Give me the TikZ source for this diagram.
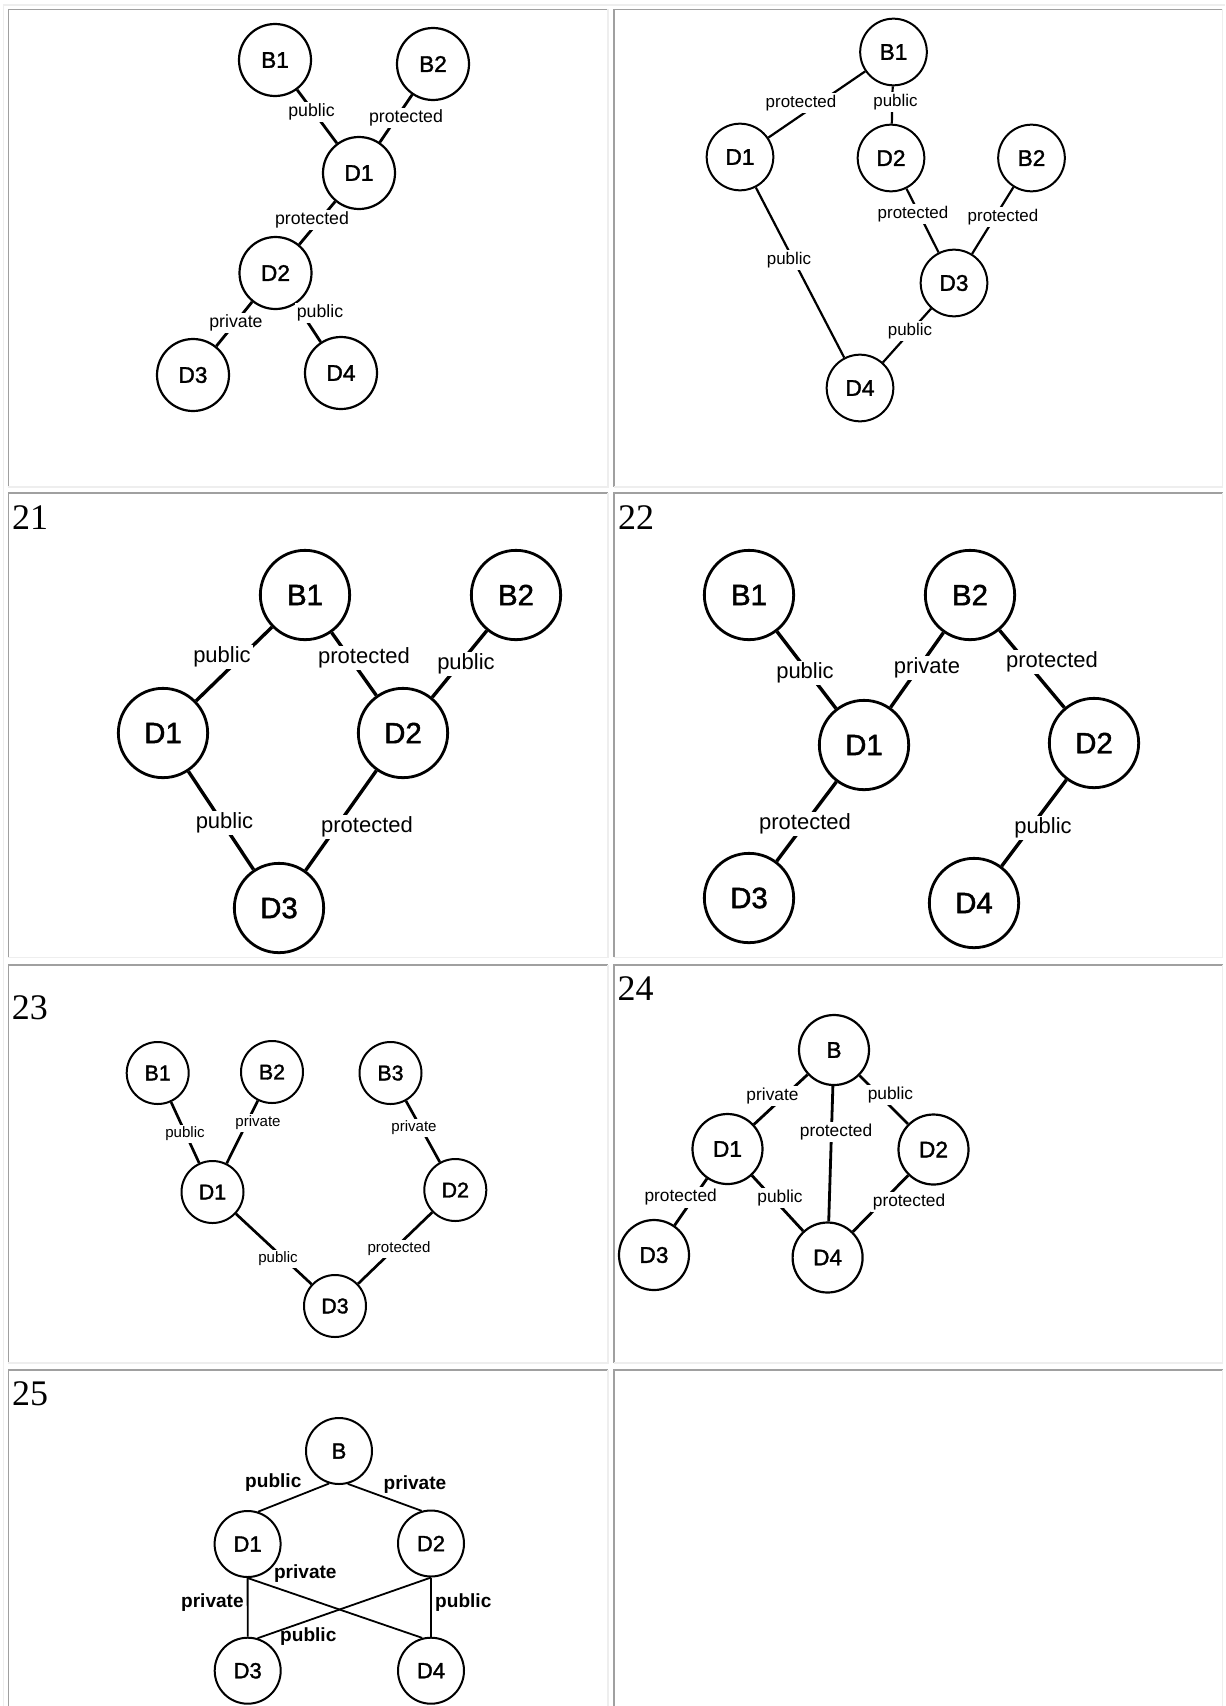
\documentclass[tikz,border=0pt]{standalone}
\usepackage{fontspec}
\setmainfont{Liberation Serif}
\setsansfont{Liberation Sans}
\newfontfamily\nodefont[FakeBold=1.6]{Liberation Sans}
\usepackage{xcolor}
\usepackage{tikz}

\definecolor{celldark}{HTML}{A0A0A0}
\definecolor{celllight}{HTML}{EEEEEE}

\begin{document}
\begin{tikzpicture}[x=0.75pt, y=-0.75pt,
    cls/.style={circle, draw, inner sep=0pt},
    lbl/.style={fill=white, inner sep=1.5pt},
    link/.style={draw, black},
    num/.style={anchor=west, inner sep=0pt, font=\fontsize{27}{27}\selectfont},
    darkrule/.style={celldark, line width=1.2pt},
    lightrule/.style={celllight, line width=1.2pt}]
  \useasboundingbox (0,0) rectangle (1225,1706);

  % Table frame
  \draw[lightrule] (3.3,1706) -- (3.3,5) -- (1225,5);

  % Cells (dark top/left, light bottom/right)
  \draw[darkrule] (8.3,486.7) -- (8.3,9.3) -- (608,9.3);
  \draw[lightrule] (608,9.3) -- (608,486.7) -- (8.3,486.7);
  \draw[darkrule] (614,486.7) -- (614,9.3) -- (1222.5,9.3);
  \draw[lightrule] (1222.5,9.3) -- (1222.5,486.7) -- (614,486.7);

  \draw[darkrule] (8.3,957.3) -- (8.3,492.7) -- (608,492.7);
  \draw[lightrule] (608,492.7) -- (608,957.3) -- (8.3,957.3);
  \draw[darkrule] (614,957.3) -- (614,492.7) -- (1222.5,492.7);
  \draw[lightrule] (1222.5,492.7) -- (1222.5,957.3) -- (614,957.3);

  \draw[darkrule] (8.3,1363) -- (8.3,965) -- (608,965);
  \draw[lightrule] (608,965) -- (608,1363) -- (8.3,1363);
  \draw[darkrule] (614,1363) -- (614,965) -- (1222.5,965);
  \draw[lightrule] (1222.5,965) -- (1222.5,1363) -- (614,1363);

  \draw[darkrule] (8.3,1710) -- (8.3,1370) -- (608,1370);
  \draw[lightrule] (608,1370) -- (608,1710);
  \draw[darkrule] (614,1710) -- (614,1370) -- (1222.5,1370);
  \draw[lightrule] (1222.5,1370) -- (1222.5,1710);

  % Top left
  \begin{scope}[name prefix=pa-,
      cls/.append style={minimum size=54pt, line width=1.65pt, font=\nodefont\fontsize{17}{17}\selectfont},
      lbl/.append style={font=\sffamily\fontsize{13.3}{13.3}\selectfont},
      link/.append style={line width=2.1pt}]
    \node[cls] (B1) at (275,60) {B1};
    \node[cls] (B2) at (433,64) {B2};
    \node[cls] (D1) at (359,173) {D1};
    \node[cls] (D2) at (275.5,273) {D2};
    \node[cls] (D3) at (193,375) {D3};
    \node[cls] (D4) at (341,373) {D4};

    \draw[link] (B1) -- (D1);
    \draw[link] (B2) -- (D1);
    \draw[link] (D1) -- (D2);
    \draw[link] (D2) -- (D3);
    \draw[link] (D2) -- (D4);

    \node[lbl] (lB1D1) at (311.5,112) {public};
    \node[lbl] (lB2D1) at (406,118) {protected};
    \node[lbl] (lD1D2) at (312,220) {protected};
    \node[lbl] (lD2D3) at (236,323) {private};
    \node[lbl] (lD2D4) at (320,313) {public};
  \end{scope}

  % Top right
  \begin{scope}[name prefix=pb-,
      cls/.append style={minimum size=50pt, line width=1.5pt, font=\nodefont\fontsize{17}{17}\selectfont},
      lbl/.append style={font=\sffamily\fontsize{12.7}{12.7}\selectfont},
      link/.append style={line width=1.65pt}]
    \node[cls] (B1) at (893.5,52) {B1};
    \node[cls] (D1) at (740,157) {D1};
    \node[cls] (D2) at (891,158) {D2};
    \node[cls] (B2) at (1031.5,158) {B2};
    \node[cls] (D3) at (954,283) {D3};
    \node[cls] (D4) at (860,388) {D4};

    \draw[link] (B1) -- (D1);
    \draw[link] (B1) -- (D2);
    \draw[link] (D2) -- (D3);
    \draw[link] (B2) -- (D3);
    \draw[link] (D1) -- (D4);
    \draw[link] (D3) -- (D4);

    \node[lbl] (lB1D1) at (801,103) {protected};
    \node[lbl] (lB1D2) at (895.5,102) {public};
    \node[lbl] (lD2D3) at (913,214) {protected};
    \node[lbl] (lB2D3) at (1003,217) {protected};
    \node[lbl] (lD1D4) at (789,260) {public};
    \node[lbl] (lD3D4) at (910,331) {public};
  \end{scope}

  % 21
  \node[num] (n21) at (11.9,517.5) {21};
  \begin{scope}[name prefix=p21-,
      cls/.append style={minimum size=67pt, line width=2.1pt, font=\nodefont\fontsize{22}{22}\selectfont},
      lbl/.append style={font=\sffamily\fontsize{16.5}{16.5}\selectfont},
      link/.append style={line width=2.55pt}]
    \node[cls] (B1) at (305,595) {B1};
    \node[cls] (B2) at (516,595) {B2};
    \node[cls] (D1) at (163,733) {D1};
    \node[cls] (D2) at (403,733) {D2};
    \node[cls] (D3) at (279,908) {D3};

    \draw[link] (B1) -- (D1);
    \draw[link] (B1) -- (D2);
    \draw[link] (B2) -- (D2);
    \draw[link] (D1) -- (D3);
    \draw[link] (D2) -- (D3);

    \node[lbl] (lB1D1) at (222,657) {public};
    \node[lbl] (lB1D2) at (364,658) {protected};
    \node[lbl] (lB2D2) at (466,664) {public};
    \node[lbl] (lD1D3) at (224.5,823) {public};
    \node[lbl] (lD2D3) at (367,827) {protected};
  \end{scope}

  % 22
  \node[num] (n22) at (617.8,518) {22};
  \begin{scope}[name prefix=p22-,
      cls/.append style={minimum size=67pt, line width=2.1pt, font=\nodefont\fontsize{22}{22}\selectfont},
      lbl/.append style={font=\sffamily\fontsize{16.5}{16.5}\selectfont},
      link/.append style={line width=2.55pt}]
    \node[cls] (B1) at (749,595) {B1};
    \node[cls] (B2) at (970,595) {B2};
    \node[cls] (D1) at (864,745) {D1};
    \node[cls] (D2) at (1094,743) {D2};
    \node[cls] (D3) at (749,898) {D3};
    \node[cls] (D4) at (974,903) {D4};

    \draw[link] (B1) -- (D1);
    \draw[link] (B2) -- (D1);
    \draw[link] (B2) -- (D2);
    \draw[link] (D1) -- (D3);
    \draw[link] (D2) -- (D4);

    \node[lbl] (lB1D1) at (805,673) {public};
    \node[lbl] (lB2D1) at (927,668) {private};
    \node[lbl] (lB2D2) at (1052,662) {protected};
    \node[lbl] (lD1D3) at (805,824) {protected};
    \node[lbl] (lD2D4) at (1043,828) {public};
  \end{scope}

  % 23
  \node[num] (n23) at (11.7,1008) {23};
  \begin{scope}[name prefix=p23-,
      cls/.append style={minimum size=46.5pt, line width=1.5pt, font=\nodefont\fontsize{16}{16}\selectfont},
      lbl/.append style={font=\sffamily\fontsize{11.3}{11.3}\selectfont},
      link/.append style={line width=2pt}]
    \node[cls] (B1) at (157.7,1073) {B1};
    \node[cls] (B2) at (272,1072) {B2};
    \node[cls] (B3) at (390.5,1073) {B3};
    \node[cls] (D1) at (212.5,1192) {D1};
    \node[cls] (D2) at (455.3,1190) {D2};
    \node[cls] (D3) at (335,1306) {D3};

    \draw[link] (B1) -- (D1);
    \draw[link] (B2) -- (D1);
    \draw[link] (B3) -- (D2);
    \draw[link] (D1) -- (D3);
    \draw[link] (D2) -- (D3);

    \node[lbl] (lB1D1) at (185,1134) {public};
    \node[lbl] (lB2D1) at (258,1123) {private};
    \node[lbl] (lB3D2) at (414,1128) {private};
    \node[lbl] (lD1D3) at (278,1259) {public};
    \node[lbl] (lD2D3) at (399,1249) {protected};
  \end{scope}

  % 24
  \node[num] (n24) at (617.3,988.5) {24};
  \begin{scope}[name prefix=p24-,
      cls/.append style={minimum size=52.5pt, line width=1.65pt, font=\nodefont\fontsize{17}{17}\selectfont},
      lbl/.append style={font=\sffamily\fontsize{13}{13}\selectfont},
      link/.append style={line width=2.1pt}]
    \node[cls] (B) at (834,1050) {B};
    \node[cls] (D1) at (727.5,1149) {D1};
    \node[cls] (D2) at (933.5,1149.5) {D2};
    \node[cls] (D3) at (654,1255) {D3};
    \node[cls] (D4) at (827.6,1257.5) {D4};

    \draw[link] (B) -- (D1);
    \draw[link] (B) -- (D2);
    \draw[link] (B) -- (D4);
    \draw[link] (D1) -- (D3);
    \draw[link] (D1) -- (D4);
    \draw[link] (D2) -- (D4);

    \node[lbl] (lBD1) at (772.5,1096) {private};
    \node[lbl] (lBD2) at (890.4,1095) {public};
    \node[lbl] (lBD4) at (836,1132) {protected};
    \node[lbl] (lD1D3) at (680.7,1197.5) {protected};
    \node[lbl] (lD1D4) at (780,1198.3) {public};
    \node[lbl] (lD2D4) at (909,1202) {protected};
  \end{scope}

  % 25
  \node[num] (n25) at (11.9,1394) {25};
  \begin{scope}[name prefix=p25-,
      cls/.append style={minimum size=49.5pt, line width=1.5pt, font=\nodefont\fontsize{16.5}{16.5}\selectfont},
      lbl/.append style={fill=none, font=\sffamily\bfseries\fontsize{14.3}{14.3}\selectfont},
      link/.append style={line width=1.35pt}]
    \node[cls] (B) at (339,1451) {B};
    \node[cls] (D1) at (247.6,1544) {D1};
    \node[cls] (D2) at (431,1543.5) {D2};
    \node[cls] (D3) at (247.7,1670.7) {D3};
    \node[cls] (D4) at (431,1670.7) {D4};

    \draw[link] (B.-107) -- (D1.72);
    \draw[link] (B.-75) -- (D2.106);
    \draw[link] (D1.south) -- (D3.north);
    \draw[link] (D1.south) -- (D4.105);
    \draw[link] (D2.south) -- (D3.73);
    \draw[link] (D2.south) -- (D4.north);

    \node[lbl] (lBD1) at (273.3,1483) {public};
    \node[lbl] (lBD2) at (415,1485) {private};
    \node[lbl] (lD1D4) at (305.3,1573.3) {private};
    \node[lbl] (lD1D3) at (212.4,1603) {private};
    \node[lbl] (lD2D4) at (463.3,1603) {public};
    \node[lbl] (lD2D3) at (308.3,1636.7) {public};
  \end{scope}
\end{tikzpicture}
\end{document}
